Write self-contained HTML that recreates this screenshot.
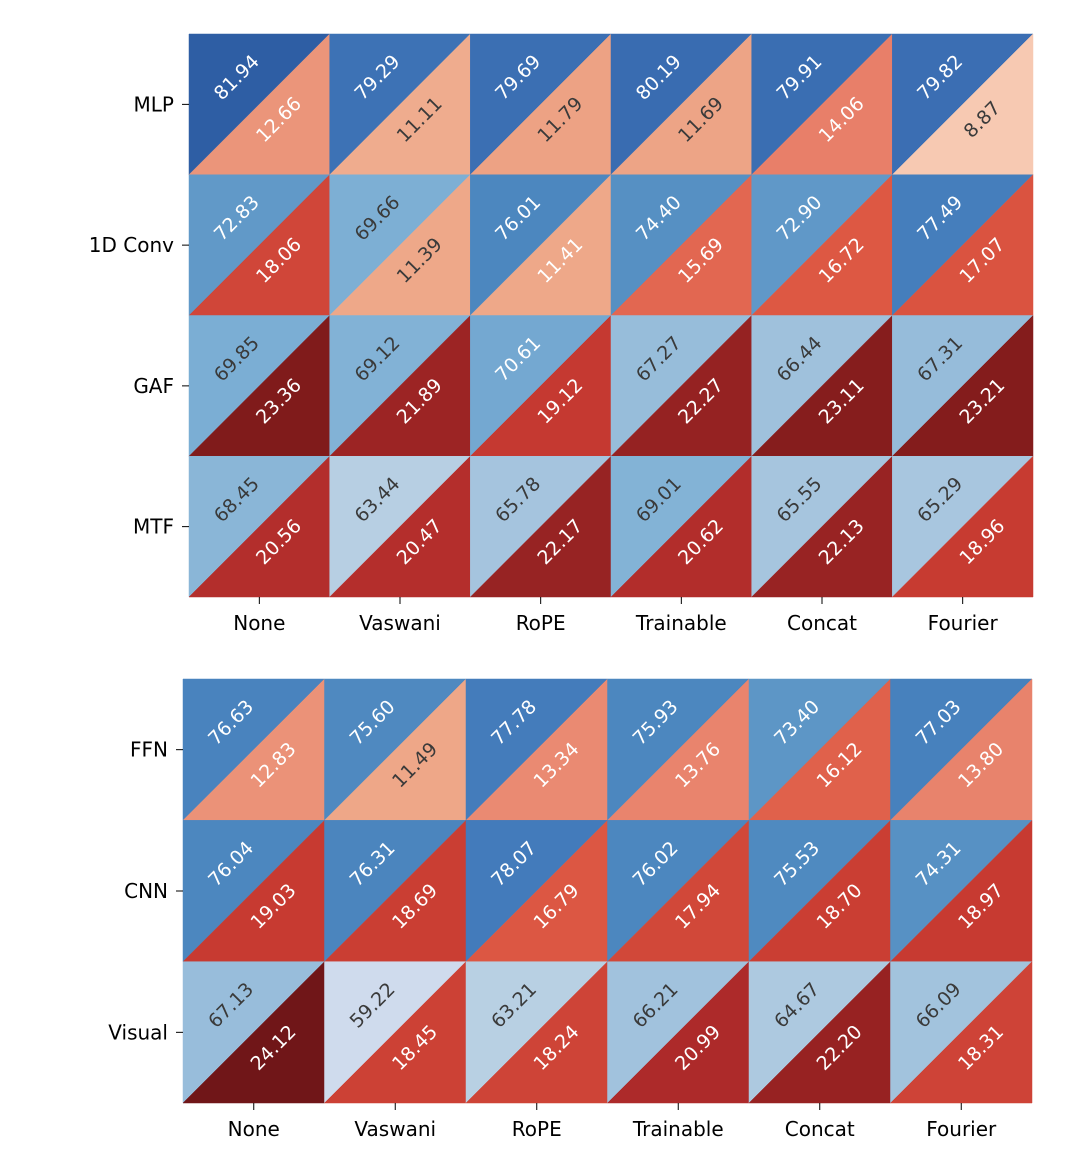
<!DOCTYPE html>
<html><head><meta charset="utf-8"><style>
body{margin:0;background:#fff;}
svg{display:block;font-family:"DejaVu Sans","Liberation Sans",sans-serif;}
</style></head><body>
<svg id="chart" width="1078" height="1166" viewBox="0 0 1078 1166"></svg>
<script>
const columns = ["None","Vaswani","RoPE","Trainable","Concat","Fourier"];
const topRows = ["MLP","1D Conv","GAF","MTF"];
const topUpper = [[81.94,79.29,79.69,80.19,79.91,79.82],[72.83,69.66,76.01,74.40,72.90,77.49],[69.85,69.12,70.61,67.27,66.44,67.31],[68.45,63.44,65.78,69.01,65.55,65.29]];
const topLower = [[12.66,11.11,11.79,11.69,14.06,8.87],[18.06,11.39,11.41,15.69,16.72,17.07],[23.36,21.89,19.12,22.27,23.11,23.21],[20.56,20.47,22.17,20.62,22.13,18.96]];
const botRows = ["FFN","CNN","Visual"];
const botUpper = [[76.63,75.60,77.78,75.93,73.40,77.03],[76.04,76.31,78.07,76.02,75.53,74.31],[67.13,59.22,63.21,66.21,64.67,66.09]];
const botLower = [[12.83,11.49,13.34,13.76,16.12,13.80],[19.03,18.69,16.79,17.94,18.70,18.97],[24.12,18.45,18.24,20.99,22.20,18.31]];

const blueStops=[[59,"#d0dced"],[63.4,"#b7cfe3"],[66.5,"#9fc1dc"],[69.5,"#7eb0d5"],[72.8,"#6199c8"],[76,"#4c87bf"],[78,"#437bbb"],[80,"#3a6db2"],[82,"#2e5ea4"]];
const redStops=[[8.5,"#f8ceb8"],[11.4,"#eea889"],[14,"#e8806a"],[16.5,"#df5b45"],[19,"#c73a31"],[21,"#ad2a2a"],[23.2,"#841c1c"],[24.2,"#6e1518"]];
function hex(h){return [1,3,5].map(i=>parseInt(h.substr(i,2),16));}
function scale(stops,v){
  if(v<=stops[0][0])return stops[0][1];
  for(let i=1;i<stops.length;i++){
    if(v<=stops[i][0]){const a=hex(stops[i-1][1]),b=hex(stops[i][1]);const t=(v-stops[i-1][0])/(stops[i][0]-stops[i-1][0]);
      return "rgb("+a.map((c,k)=>Math.round(c+(b[k]-c)*t)).join(",")+")";}
  }
  return stops[stops.length-1][1];
}
const NS="http://www.w3.org/2000/svg";
const svg=document.getElementById("chart");
function mk(tag,attrs,parent){const e=document.createElementNS(NS,tag);for(const k in attrs)e.setAttribute(k,attrs[k]);(parent||svg).appendChild(e);return e;}

function panel(name,rows,upper,lower,x0,y0,x1,y1){
  const g=mk("g",{});
  
  
  const cw=(x1-x0)/columns.length, ch=(y1-y0)/rows.length;
  const xs=j=>x0+j*cw, ys=i=>y0+i*ch;
  rows.forEach((r,i)=>{columns.forEach((c,j)=>{
    const x=xs(j),y=ys(i);
    const u=upper[i][j], l=lower[i][j];
    const p1=mk("polygon",{points:`${x},${y} ${x+cw},${y} ${x},${y+ch}`,fill:scale(blueStops,u),stroke:scale(blueStops,u),"stroke-width":0.5},g);
    
    
    const p2=mk("polygon",{points:`${x+cw},${y} ${x+cw},${y+ch} ${x},${y+ch}`,fill:scale(redStops,l),stroke:scale(redStops,l),"stroke-width":0.5},g);
    
    
    const tx1=x+cw*0.34,ty1=y+ch*0.31,tx2=x+cw*0.64,ty2=y+ch*0.61;
    const t1=mk("text",{x:tx1,y:ty1,"font-size":19,"text-anchor":"middle","dominant-baseline":"central",fill:u>=70.5?"#fff":"#3a3a3a",transform:`rotate(-45 ${tx1} ${ty1})`},g);
    t1.textContent=u.toFixed(2);
    
    
    const t2=mk("text",{x:tx2,y:ty2,"font-size":19,"text-anchor":"middle","dominant-baseline":"central",fill:(l>=12||l===11.41)?"#fff":"#3a3a3a",transform:`rotate(-45 ${tx2} ${ty2})`},g);
    t2.textContent=l.toFixed(2);
    
    
  });
    const cy=ys(i)+ch/2;
    mk("line",{x1:x0-7,x2:x0,y1:cy,y2:cy,stroke:"#000","stroke-width":1},g);
    const lab=mk("text",{x:x0-15,y:cy,"font-size":20,"text-anchor":"end","dominant-baseline":"central",fill:"#000"},g);
    lab.textContent=r;
    
    
  });
  columns.forEach((c,j)=>{
    const cx=xs(j)+cw/2;
    mk("line",{x1:cx,x2:cx,y1:y1,y2:y1+7,stroke:"#000","stroke-width":1},g);
    const lab=mk("text",{x:cx,y:y1+26,"font-size":20,"text-anchor":"middle","dominant-baseline":"central",fill:"#000"},g);
    lab.textContent=c;
    
    
  });
}
panel("top-heatmap",topRows,topUpper,topLower,189,34,1033,597);
panel("bottom-heatmap",botRows,botUpper,botLower,183,679,1032,1103);
</script>
</body></html>
